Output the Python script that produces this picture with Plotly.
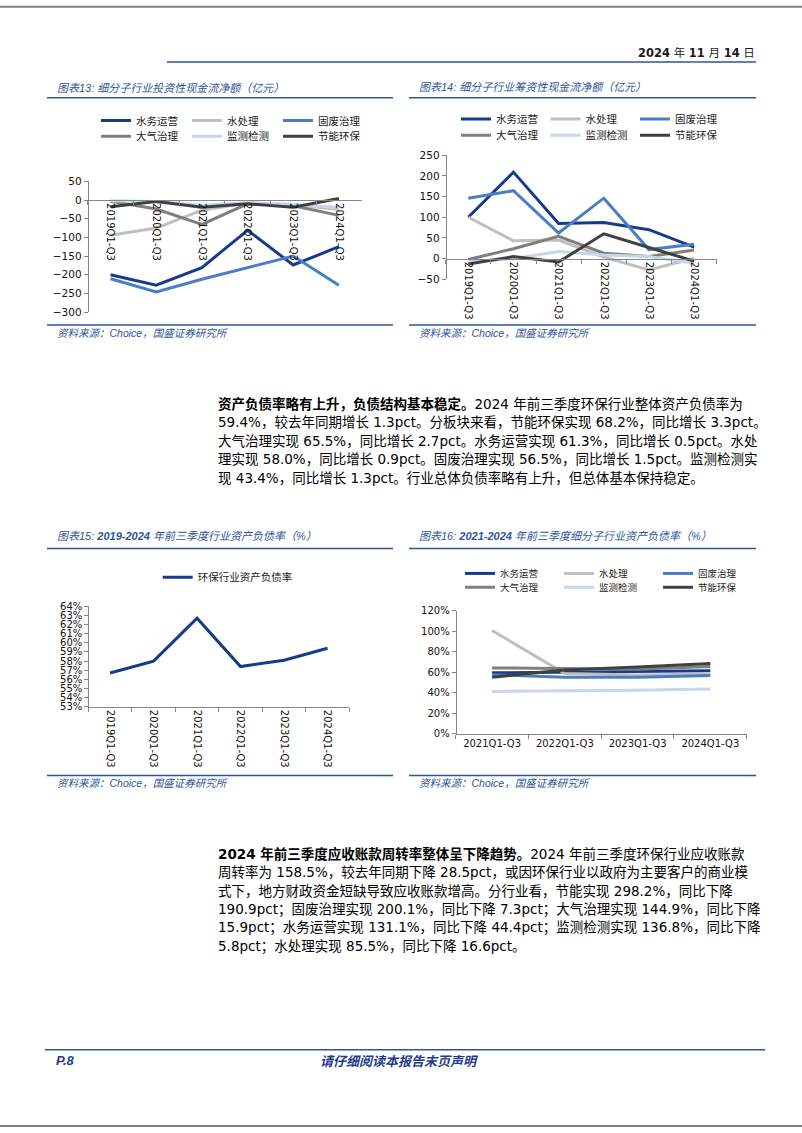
import plotly.graph_objects as go

W, H = 802, 1133

CJK = "Noto Sans CJK SC"
LATIN = "Verdana, DejaVu Sans, Noto Sans CJK SC"
BLUE = "#2F5597"
NAVY = "#1F3C88"
AXIS = "#868686"

# --- dados ---
SEGMENTS = ["水务运营", "水处理", "固废治理", "大气治理", "监测检测", "节能环保"]
SEG_COLORS = ["#153C8C", "#BFBFBF", "#4A7EC1", "#7F7F7F", "#C6D6EC", "#404040"]

PERIODS_6 = ["2019Q1-Q3", "2020Q1-Q3", "2021Q1-Q3", "2022Q1-Q3", "2023Q1-Q3", "2024Q1-Q3"]
PERIODS_4 = ["2021Q1-Q3", "2022Q1-Q3", "2023Q1-Q3", "2024Q1-Q3"]

# 图表13 投资性现金流净额（亿元）
inv_water_ops = [-200, -228, -181, -81, -174, -125]
inv_water_treat = [-94, -75, -27, -8, -12, -25]
inv_solid_waste = [-211, -246, -212, -180, -150, -228]
inv_air = [-3, -24, -65, -10, -15, -41]
inv_monitor = [-2, -4, -14, -7, -12, -20]
inv_energy = [-18, -4, -19, -10, -19, 4]

# 图表14 筹资性现金流净额（亿元）
fin_water_ops = [100, 209, 85, 87, 70, 28]
fin_water_treat = [100, 43, 45, 4, -27, 1]
fin_solid_waste = [146, 164, 62, 146, 22, 35]
fin_air = [-2, 24, 54, 13, 5, 21]
fin_monitor = [-7, 0, 17, 9, 5, -11]
fin_energy = [-13, 5, -8, 60, 27, -6]

# 图表15 行业资产负债率（%）
industry_debt_ratio = [56.7, 58.0, 62.7, 57.4, 58.1, 59.4]

# 图表16 细分子行业资产负债率（%）
debt_water_ops = [59.2, 59.8, 60.8, 61.3]
debt_water_treat = [100.5, 58.5, 57.1, 58.0]
debt_solid_waste = [57.3, 55.0, 55.0, 56.5]
debt_air = [64.0, 63.5, 62.8, 65.5]
debt_monitor = [41.0, 41.3, 42.1, 43.4]
debt_energy = [55.0, 62.0, 64.9, 68.2]

PARA1 = [
    "<b>资产负债率略有上升，负债结构基本稳定。</b>2024 年前三季度环保行业整体资产负债率为",
    "59.4%，较去年同期增长 1.3pct。分板块来看，节能环保实现 68.2%，同比增长 3.3pct。",
    "大气治理实现 65.5%，同比增长 2.7pct。水务运营实现 61.3%，同比增长 0.5pct。水处",
    "理实现 58.0%，同比增长 0.9pct。固废治理实现 56.5%，同比增长 1.5pct。监测检测实",
    "现 43.4%，同比增长 1.3pct。行业总体负债率略有上升，但总体基本保持稳定。",
]
PARA2 = [
    "<b>2024 年前三季度应收账款周转率整体呈下降趋势。</b>2024 年前三季度环保行业应收账款",
    "周转率为 158.5%，较去年同期下降 28.5pct，或因环保行业以政府为主要客户的商业模",
    "式下，地方财政资金短缺导致应收账款增高。分行业看，节能实现 298.2%，同比下降",
    "190.9pct；固废治理实现 200.1%，同比下降 7.3pct；大气治理实现 144.9%，同比下降",
    "15.9pct；水务运营实现 131.1%，同比下降 44.4pct；监测检测实现 136.8%，同比下降",
    "5.8pct；水处理实现 85.5%，同比下降 16.6pct。",
]


def px(x):
    return x / W


def py(y):
    return 1 - y / H


fig = go.Figure()


def add_group(cats, series, xa, ya, legends, width=3):
    for i, (name, vals) in enumerate(zip(SEGMENTS, series)):
        fig.add_trace(go.Scatter(
            x=cats, y=vals, name=name, mode="lines",
            line=dict(color=SEG_COLORS[i], width=width),
            xaxis=xa, yaxis=ya, legend=legends[i // 3], hoverinfo="skip",
        ))


add_group(PERIODS_6, [inv_water_ops, inv_water_treat, inv_solid_waste, inv_air, inv_monitor, inv_energy],
          "x", "y", ["legend", "legend2"])
add_group(PERIODS_6, [fin_water_ops, fin_water_treat, fin_solid_waste, fin_air, fin_monitor, fin_energy],
          "x2", "y2", ["legend3", "legend4"])
fig.add_trace(go.Scatter(
    x=PERIODS_6, y=industry_debt_ratio, name="环保行业资产负债率", mode="lines",
    line=dict(color="#153C8C", width=3), xaxis="x3", yaxis="y3", legend="legend5", hoverinfo="skip",
))
add_group(PERIODS_4, [debt_water_ops, debt_water_treat, debt_solid_waste, debt_air, debt_monitor, debt_energy],
          "x4", "y4", ["legend6", "legend7"])


def xcat(x0, x1, ypos, n, angle, size=10):
    return dict(domain=[px(x0), px(x1)], anchor="free", position=ypos, type="category",
                range=[-0.5, n - 0.5], showline=True, linecolor=AXIS, linewidth=1,
                ticks="outside", ticklen=4, tickcolor=AXIS, tickson="boundaries",
                tickangle=angle, showgrid=False, zeroline=False, fixedrange=True,
                tickfont=dict(family=LATIN, size=size, color="#111"))


def yval(x0, ytop, ybot, rng, dtick, suffix="", size=10.5):
    return dict(domain=[py(ybot), py(ytop)], anchor="free", position=px(x0), range=rng,
                tick0=rng[0], dtick=dtick, ticksuffix=suffix, showline=True, linecolor=AXIS,
                linewidth=1, ticks="outside", ticklen=4, tickcolor=AXIS, showgrid=False,
                zeroline=False, fixedrange=True, tickfont=dict(family=LATIN, size=size, color="#111"))


def zero_pos(ytop, ybot, rng):
    # pixel row of value 0 on a value axis
    return py(ytop + rng[1] / (rng[1] - rng[0]) * (ybot - ytop))


def legend_cfg(x, y, entrywidth, size=10.5):
    return dict(x=px(x), y=py(y), xanchor="left", yanchor="middle", orientation="h",
                entrywidth=entrywidth, entrywidthmode="pixels", itemwidth=30,
                font=dict(family=CJK, size=size, color="#1a1a1a"), bgcolor="rgba(0,0,0,0)",
                borderwidth=0, traceorder="normal", itemclick=False, itemdoubleclick=False)


r13 = [-300, 50]
r14 = [-50, 250]
fig.update_layout(
    width=W, height=H, margin=dict(l=0, r=0, t=0, b=0),
    paper_bgcolor="white", plot_bgcolor="rgba(0,0,0,0)",
    showlegend=True,
    xaxis=xcat(87.7, 361.7, zero_pos(177.3, 309.3, r13), 6, 90),
    yaxis=yval(87.7, 177.3, 309.3, r13, 50),
    xaxis2=xcat(445.7, 716.7, zero_pos(150.7, 276.3, r14), 6, 90),
    yaxis2=yval(445.7, 150.7, 276.3, r14, 50),
    xaxis3=xcat(88.3, 349.3, py(708.3), 6, 90),
    yaxis3=yval(88.3, 606.7, 708.3, [53, 64], 1, "%", 10),
    xaxis4=xcat(455.7, 746.7, py(735.3), 4, 0),
    yaxis4=yval(455.7, 611, 735.3, [0, 120], 20, "%", 10),
    legend=legend_cfg(96, 115.7, 46),
    legend2=legend_cfg(96, 131.7, 46),
    legend3=legend_cfg(456, 114.3, 44.5),
    legend4=legend_cfg(456, 130.7, 44.5),
    legend5=legend_cfg(157.7, 577.3, 0),
    legend6=legend_cfg(460, 573.5, 54, 9.5),
    legend7=legend_cfg(460, 587.5, 54, 9.5),
)


def text(x, y, s, size, color="#000", family=CJK, anchor="left", italic=False):
    fig.add_annotation(xref="paper", yref="paper", x=px(x), y=py(y), text=s, showarrow=False,
                       xanchor=anchor, yanchor="middle", borderpad=0,
                       font=dict(family=family, size=size, color=color,
                                 style="italic" if italic else "normal"))


def hline(x0, x1, y, color=BLUE, width=1.5):
    fig.add_shape(type="line", xref="paper", yref="paper", x0=px(x0), x1=px(x1),
                  y0=py(y), y1=py(y), line=dict(color=color, width=width))


TITLE_FONT = "Liberation Sans, Arial, Noto Sans CJK SC"

# page frame
hline(0, 802, 0.8, "#808080", 2)
hline(0, 802, 1132, "#808080", 2)

# header
text(756, 47, "<b>2024</b> 年 <b>11</b> 月 <b>14</b> 日", 11.5, "#1a1a1a", LATIN, "right")
hline(167, 756, 56.7)

# chart titles / sources
text(56, 82.7, "图表13: 细分子行业投资性现金流净额（亿元）", 11, BLUE, TITLE_FONT, italic=True)
text(418, 82.2, "图表14: 细分子行业筹资性现金流净额（亿元）", 11, BLUE, TITLE_FONT, italic=True)
text(56, 535.7, "图表15: <b>2019-2024</b> 年前三季度行业资产负债率（%）", 11, BLUE, TITLE_FONT, italic=True)
text(418, 535.2, "图表16: <b>2021-2024</b> 年前三季度细分子行业资产负债率（%）", 11, BLUE, TITLE_FONT, italic=True)
for x0, x1, ty, sy in [(47, 393, 92.7, 322.3), (409, 756, 92.7, 322.3),
                       (47, 393, 548.3, 777.7), (409, 756, 548.3, 777.7)]:
    hline(x0, x1, ty)
    hline(x0, x1, sy)
    text(x0 + 9, sy + 8, "资料来源：Choice，国盛证券研究所", 10.5, BLUE, TITLE_FONT, italic=True)

# body text
BODY = "DejaVu Sans, Noto Sans CJK SC"
for i, line in enumerate(PARA1):
    text(217, 402 + i * 18.75, line, 13.5, "#000", BODY)
for i, line in enumerate(PARA2):
    text(217, 856.7 + i * 18.7, line, 13.5, "#000", BODY)

# footer
hline(45, 765, 1055)
text(55, 1066, "<b>P.8</b>", 13, NAVY, "Liberation Sans, Arial", italic=True)
text(399, 1066, "<b>请仔细阅读本报告末页声明</b>", 13, NAVY, CJK, "center", italic=True)

# page without default body margin, so the 802x1133 figure fills the window
fig.write_html("out.html", config={"displayModeBar": False},
               post_script="document.body.style.margin='0';")
